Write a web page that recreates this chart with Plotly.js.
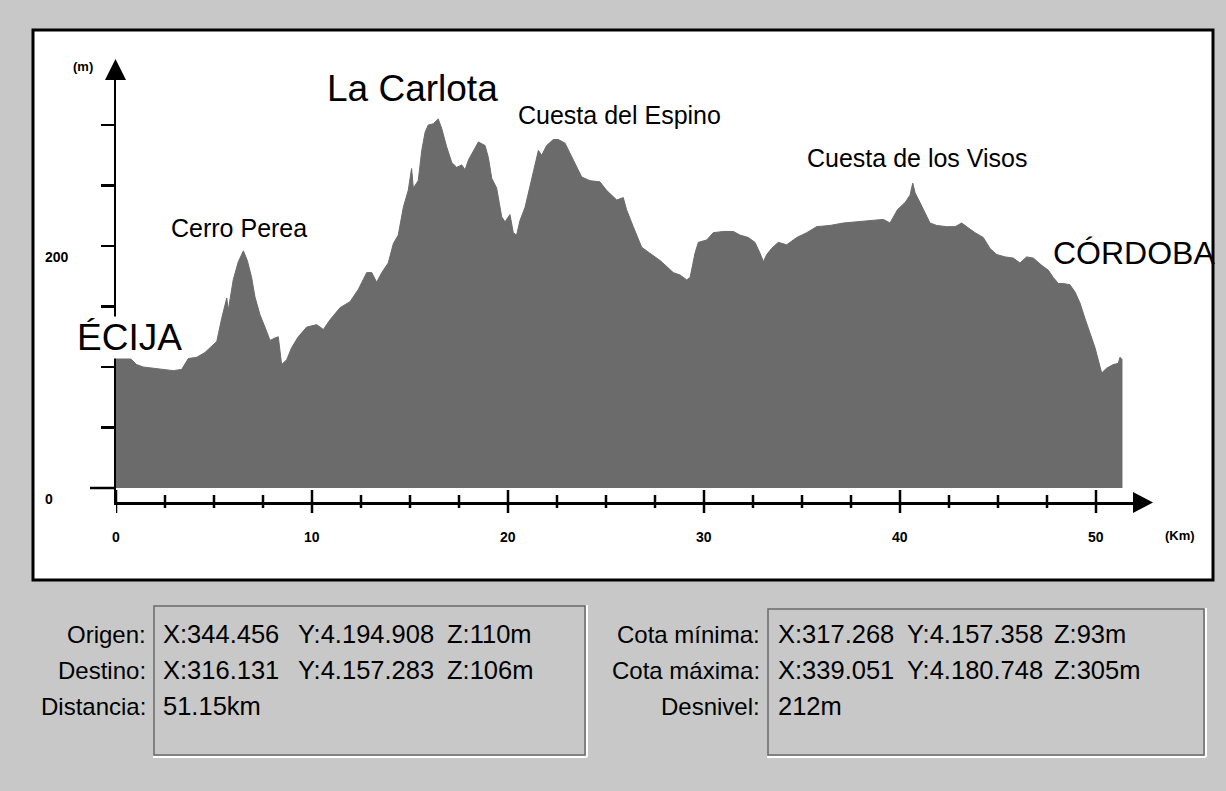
<!DOCTYPE html>
<html><head><meta charset="utf-8">
<script src="https://cdn.plot.ly/plotly-3.0.1.min.js"></script>
<style>html,body{margin:0;padding:0;background:#c8c8c8;} #chart{width:1226px;height:791px;}</style>
</head><body><div id="chart"></div>
<script>
// ---- data ----
const distanceKm = [0, 0.46, 0.80, 1.05, 1.39, 1.90, 2.41, 2.92, 3.35, 3.69,
  4.12, 4.54, 4.80, 5.14, 5.39, 5.65, 5.73, 5.98, 6.24, 6.50,
  6.70, 6.92, 7.09, 7.35, 7.60, 7.86, 8.11, 8.28, 8.45, 8.71,
  8.96, 9.30, 9.73, 10.24, 10.58, 10.92, 11.43, 11.94, 12.36, 12.79,
  13.05, 13.30, 13.56, 13.89, 14.15, 14.40, 14.66, 14.91, 15.08, 15.17,
  15.42, 15.60, 15.77, 15.93, 16.19, 16.44, 16.62, 16.87, 17.13, 17.38,
  17.64, 17.81, 17.98, 18.23, 18.49, 18.83, 19.00, 19.17, 19.42, 19.68,
  19.85, 20.10, 20.27, 20.44, 20.61, 20.87, 21.12, 21.38, 21.55, 21.72,
  21.97, 22.31, 22.57, 22.91, 23.16, 23.50, 23.76, 24.18, 24.69, 25.03,
  25.55, 25.88, 26.05, 26.39, 26.82, 27.24, 27.76, 28.10, 28.43, 28.78,
  29.12, 29.29, 29.54, 29.71, 30.14, 30.47, 30.98, 31.50, 31.84, 32.26,
  32.60, 32.86, 33.03, 33.20, 33.45, 33.79, 34.22, 34.73, 35.24, 35.75,
  36.43, 37.11, 37.79, 38.47, 39.15, 39.49, 39.87, 40.26, 40.51, 40.65,
  40.77, 41.02, 41.28, 41.53, 41.87, 42.38, 42.81, 43.15, 43.48, 43.83,
  44.25, 44.59, 44.93, 45.36, 45.78, 46.12, 46.46, 46.80, 47.23, 47.57,
  47.82, 48.08, 48.33, 48.67, 48.93, 49.18, 49.44, 49.69, 49.95, 50.29,
  50.54, 50.88, 51.14, 51.22, 51.35];
const elevationM = [110, 111, 106, 102, 100, 99, 98, 97, 98, 107,
  108, 112, 116, 121, 140, 157, 147, 172, 187, 196,
  188, 174, 158, 143, 133, 122, 124, 125, 102, 106,
  116, 125, 133, 135, 131, 139, 149, 154, 164, 178,
  178, 170, 178, 186, 202, 209, 232, 246, 264, 248,
  254, 279, 294, 300, 301, 305, 297, 282, 269, 265,
  267, 263, 271, 279, 286, 283, 273, 256, 248, 224,
  220, 226, 211, 209, 221, 232, 249, 265, 279, 275,
  283, 288, 288, 285, 277, 265, 257, 254, 253, 246,
  238, 240, 230, 216, 199, 194, 188, 183, 178, 176,
  172, 174, 194, 203, 205, 211, 212, 212, 209, 207,
  203, 194, 187, 193, 198, 203, 201, 207, 211, 216,
  217, 219, 220, 221, 222, 219, 230, 236, 242, 252,
  244, 236, 227, 219, 217, 216, 216, 219, 215, 211,
  207, 198, 193, 191, 190, 186, 191, 190, 184, 180,
  174, 169, 169, 168, 162, 153, 140, 128, 116, 95,
  99, 102, 103, 108, 106];
const xMajorTicks = [0, 10, 20, 30, 40, 50];
const xTickLabels = ['0', '10', '20', '30', '40', '50'];
const xMinorTicks = [2.5, 5, 7.5, 12.5, 15, 17.5, 22.5, 25, 27.5, 32.5, 35, 37.5, 42.5, 45, 47.5];
const yTicks = [50, 100, 150, 200, 250, 300];
const yLabelValues = [0, 200];
const yLabelTexts = ['0', '200'];
const xUnit = '(Km)';
const yUnit = '(m)';
const placeNames = ['ÉCIJA', 'Cerro Perea', 'La Carlota', 'Cuesta del Espino', 'Cuesta de los Visos', 'CÓRDOBA'];
const infoLeftLabels = ['Origen:', 'Destino:', 'Distancia:'];
const infoLeftValues = [['X:344.456', 'Y:4.194.908', 'Z:110m'], ['X:316.131', 'Y:4.157.283', 'Z:106m'], ['51.15km']];
const infoRightLabels = ['Cota mínima:', 'Cota máxima:', 'Desnivel:'];
const infoRightValues = [['X:317.268', 'Y:4.157.358', 'Z:93m'], ['X:339.051', 'Y:4.180.748', 'Z:305m'], ['212m']];

// ---- layout geometry (pixels) ----
const W = 1226, Hh = 791;
const L = 116, R = 1134, T = 79, B = 502;
const kmPx = 19.6, mPx = 1.21, zeroY = 488;
const PW = R - L, PH = B - T;
const px = v => (v - L) / PW;      // pixel x -> paper
const py = v => (B - v) / PH;      // pixel y -> paper
const xRange = [0, PW / kmPx];
const yRange = [-(B - zeroY) / mPx, (zeroY - T) / mPx];

const SANS = 'Liberation Sans, Arial, sans-serif';

const shapes = [];
const annotations = [];

// white panel with black border
shapes.push({type: 'rect', xref: 'paper', yref: 'paper', layer: 'below',
  x0: px(33), x1: px(1213), y0: py(30), y1: py(580),
  fillcolor: 'white', line: {color: 'black', width: 3}});

// x ticks (crossing the axis line)
xMajorTicks.forEach(v => shapes.push({type: 'line', xref: 'x', x0: v, x1: v,
  yref: 'paper', ysizemode: 'pixel', yanchor: 0, y0: -11, y1: 12,
  line: {color: 'black', width: 2.5}}));
xMinorTicks.forEach(v => shapes.push({type: 'line', xref: 'x', x0: v, x1: v,
  yref: 'paper', ysizemode: 'pixel', yanchor: 0, y0: -6, y1: 7,
  line: {color: 'black', width: 2.5}}));
// long zero tick on the y axis
shapes.push({type: 'line', yref: 'y', y0: 0, y1: 0, xref: 'paper', xsizemode: 'pixel', xanchor: 0,
  x0: -26, x1: 0, line: {color: 'black', width: 2.5}});
// arrowheads
shapes.push({type: 'path', xref: 'paper', xsizemode: 'pixel', xanchor: 0, yref: 'paper', ysizemode: 'pixel', yanchor: 1,
  path: 'M -11 -1 L 10 -1 L -0.5 20 Z', fillcolor: 'black', line: {width: 0}});
shapes.push({type: 'path', xref: 'paper', xsizemode: 'pixel', xanchor: 1, yref: 'paper', ysizemode: 'pixel', yanchor: 0,
  path: 'M -1 10 L -1 -11 L 19 -0.5 Z', fillcolor: 'black', line: {width: 0}});

// info boxes (inset 3D look)
function box(x0, x1, y0, y1) {
  shapes.push({type: 'rect', xref: 'paper', yref: 'paper', x0: px(x0), x1: px(x1), y0: py(y0), y1: py(y1),
    line: {color: '#6a6a6a', width: 1.5}, fillcolor: 'rgba(0,0,0,0)'});
  shapes.push({type: 'line', xref: 'paper', yref: 'paper', x0: px(x0 - 1), x1: px(x1 + 2), y0: py(y1 + 2), y1: py(y1 + 2),
    line: {color: 'white', width: 2}});
  shapes.push({type: 'line', xref: 'paper', yref: 'paper', x0: px(x1 + 2), x1: px(x1 + 2), y0: py(y0 - 1), y1: py(y1 + 2),
    line: {color: 'white', width: 2}});
}
box(154, 585, 606, 755);
box(768, 1204, 609, 755);

// axis tick labels
const tickFont = {family: SANS, size: 14, color: 'black', weight: 'bold'};
xMajorTicks.forEach((v, i) => annotations.push({xref: 'x', x: v, yref: 'paper', y: py(537),
  text: xTickLabels[i], showarrow: false, xanchor: 'center', yanchor: 'middle', font: tickFont}));
yLabelValues.forEach((v, i) => annotations.push({xref: 'paper', x: px(43), yref: 'y', y: v, yshift: -11,
  text: yLabelTexts[i], showarrow: false, xanchor: 'left', yanchor: 'middle', font: tickFont}));
annotations.push({xref: 'paper', x: px(83), yref: 'paper', y: py(67), text: yUnit, showarrow: false,
  xanchor: 'center', yanchor: 'middle', font: {family: SANS, size: 13, weight: 'bold', color: 'black'}});
annotations.push({xref: 'paper', x: px(1180), yref: 'paper', y: py(535), text: xUnit, showarrow: false,
  xanchor: 'center', yanchor: 'middle', font: {family: SANS, size: 13, weight: 'bold', color: 'black'}});

// place names
const placePos = [
  {x: 129, y: 337, size: 37, bg: true},
  {x: 239, y: 228, size: 25},
  {x: 412, y: 88, size: 37},
  {x: 619, y: 115, size: 25},
  {x: 917, y: 158, size: 25},
  {x: 1134, y: 253, size: 32}
];
placeNames.forEach((t, i) => {
  const p = placePos[i];
  annotations.push({xref: 'paper', yref: 'paper', x: px(p.x), y: py(p.y), text: t, showarrow: false,
    xanchor: 'center', yanchor: 'middle', font: {family: SANS, size: p.size, color: 'black'},
    bgcolor: p.bg ? 'white' : 'rgba(0,0,0,0)', borderpad: 0});
});

// info panel texts
const rowY = [634, 670, 706];
const labelFont = {family: SANS, size: 24, color: 'black'};
const valueFont = {family: SANS, size: 25.5, color: 'black'};
function infoBlock(labels, values, labelRight, cols) {
  labels.forEach((lab, r) => {
    annotations.push({xref: 'paper', yref: 'paper', x: px(labelRight), y: py(rowY[r]), text: lab, showarrow: false,
      xanchor: 'right', yanchor: 'middle', font: labelFont});
    values[r].forEach((val, c) => annotations.push({xref: 'paper', yref: 'paper', x: px(cols[c]), y: py(rowY[r]),
      text: val, showarrow: false, xanchor: 'left', yanchor: 'middle', font: valueFont}));
  });
}
infoBlock(infoLeftLabels, infoLeftValues, 148, [161, 296, 445]);
infoBlock(infoRightLabels, infoRightValues, 762, [776, 905, 1052]);

const trace = {
  type: 'scatter', mode: 'lines', x: distanceKm, y: elevationM,
  fill: 'tozeroy', fillcolor: '#6b6b6b', line: {color: '#6b6b6b', width: 1},
  hoverinfo: 'skip', showlegend: false
};

const layout = {
  width: W, height: Hh,
  margin: {l: L, r: W - R, t: T, b: Hh - B, pad: 0},
  paper_bgcolor: '#c8c8c8', plot_bgcolor: 'rgba(0,0,0,0)',
  showlegend: false,
  xaxis: {range: xRange, showgrid: false, zeroline: false, showline: true, linecolor: 'black', linewidth: 2.5,
    ticks: '', showticklabels: false, fixedrange: true},
  yaxis: {range: yRange, showgrid: false, zeroline: false, showline: true, linecolor: 'black', linewidth: 2.5,
    ticks: 'outside', ticklen: 13, tickwidth: 2.5, tickcolor: 'black', tickvals: yTicks, showticklabels: false, fixedrange: true},
  shapes: shapes,
  annotations: annotations
};

Plotly.newPlot('chart', [trace], layout, {staticPlot: true, displayModeBar: false});
</script>
</body></html>
